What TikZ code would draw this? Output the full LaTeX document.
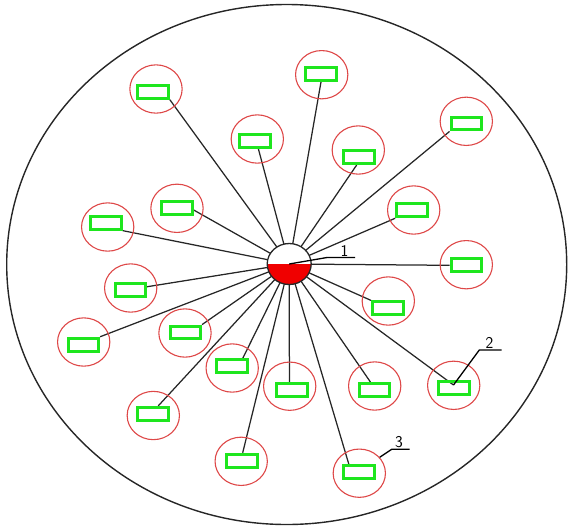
\documentclass[tikz,border=0pt]{standalone}
\usetikzlibrary{shapes.geometric,backgrounds}
\definecolor{ringred}{RGB}{222,72,72}
\definecolor{boxgreen}{RGB}{30,230,30}
\definecolor{hubred}{RGB}{240,0,0}
\tikzset{
  rim/.style={ellipse, draw=black!85, line width=1.4pt, inner sep=0pt,
    minimum width=560pt, minimum height=520pt},
  ring/.style={ellipse, draw=ringred, line width=1.1pt, inner sep=0pt,
    minimum width=52.3pt, minimum height=48.3pt},
  cell/.style={rectangle, draw=boxgreen, line width=3pt, inner sep=0pt,
    minimum width=30.6pt, minimum height=12.9pt},
  hubnode/.style={ellipse, draw=black!85, fill=white, line width=1.3pt, inner sep=0pt,
    minimum width=44pt, minimum height=41pt,
    path picture={\fill[hubred] (path picture bounding box.west) rectangle (path picture bounding box.south east);}},
  spoke/.style={draw=black!85, line width=1.25pt},
  leader/.style={draw=black, line width=1.3pt},
  tag/.style={font=\sffamily\fontsize{16.5}{16.5}\selectfont, inner sep=0pt, anchor=base}
}
\begin{document}
\begin{tikzpicture}[x=1pt,y=-1pt]
\useasboundingbox (0,0) rectangle (572,528);
\node[rim] (outer) at (286.7,264.5) {};
% satellites: index / ring centre / cell centre
\foreach \i/\cx/\cy/\bx/\by in {
  1/156/89/153/91.7,
  2/321.7/74.7/321/74,
  3/466.3/121.3/466.3/123.5,
  4/257.3/139/254.7/141,
  5/358.3/150/358.7/157,
  6/413.7/210/412/210.3,
  7/177/208.3/177/207.7,
  8/107.7/227/106/222.7,
  9/466.3/264.7/466.3/265.3,
  10/130.7/288/130.3/289.7,
  11/388.3/301/387.7/308.3,
  12/83.7/342/83.3/344.7,
  13/185/333/185.3/332.5,
  14/232.2/368/232.2/366.3,
  15/289.7/386.2/292/390,
  16/374.7/386/374.5/390,
  17/453.7/385.3/453.7/387.7,
  18/153.3/415.5/152.7/413.8,
  19/241.2/461.3/242/460.7,
  20/359.3/473.2/358.7/472.3}
{
  \node[ring] (c\i) at (\cx,\cy) {};
  \node[cell] (r\i) at (\bx,\by) {};
}
\node[hubnode] (hub) at (289.2,264) {};
\coordinate (p2) at (453.5,385);
\begin{scope}[on background layer]
  \foreach \i/\an in {1/south east, 2/south, 3/south west, 4/-65, 5/-104,
      6/south west, 7/-8, 8/south east, 9/west, 10/10, 11/north west,
      12/north east, 13/north east, 14/37, 15/108, 16/117, 18/55, 19/85, 20/141}
  { \draw[spoke] (hub.center) -- (r\i.\an); }
  \draw[spoke] (hub.center) -- (p2);
\end{scope}
% leader 1
\coordinate (k1) at (327,257.5);
\coordinate (e1) at (355,257.5);
\draw[leader] (hub.center) -- (k1) -- (e1);
\node[tag] (t1) at (344.5,256.3) {1};
% leader 2
\coordinate (k2) at (479.3,350);
\coordinate (e2) at (501.5,350);
\draw[leader] (p2) -- (k2) -- (e2);
\node[tag] (t2) at (489.5,348.5) {2};
% leader 3
\coordinate (k3) at (391.7,449.3);
\coordinate (e3) at (409.5,449.3);
\draw[leader] (c20.38) -- (k3) -- (e3);
\node[tag] (t3) at (399,447.8) {3};
\end{tikzpicture}
\end{document}
